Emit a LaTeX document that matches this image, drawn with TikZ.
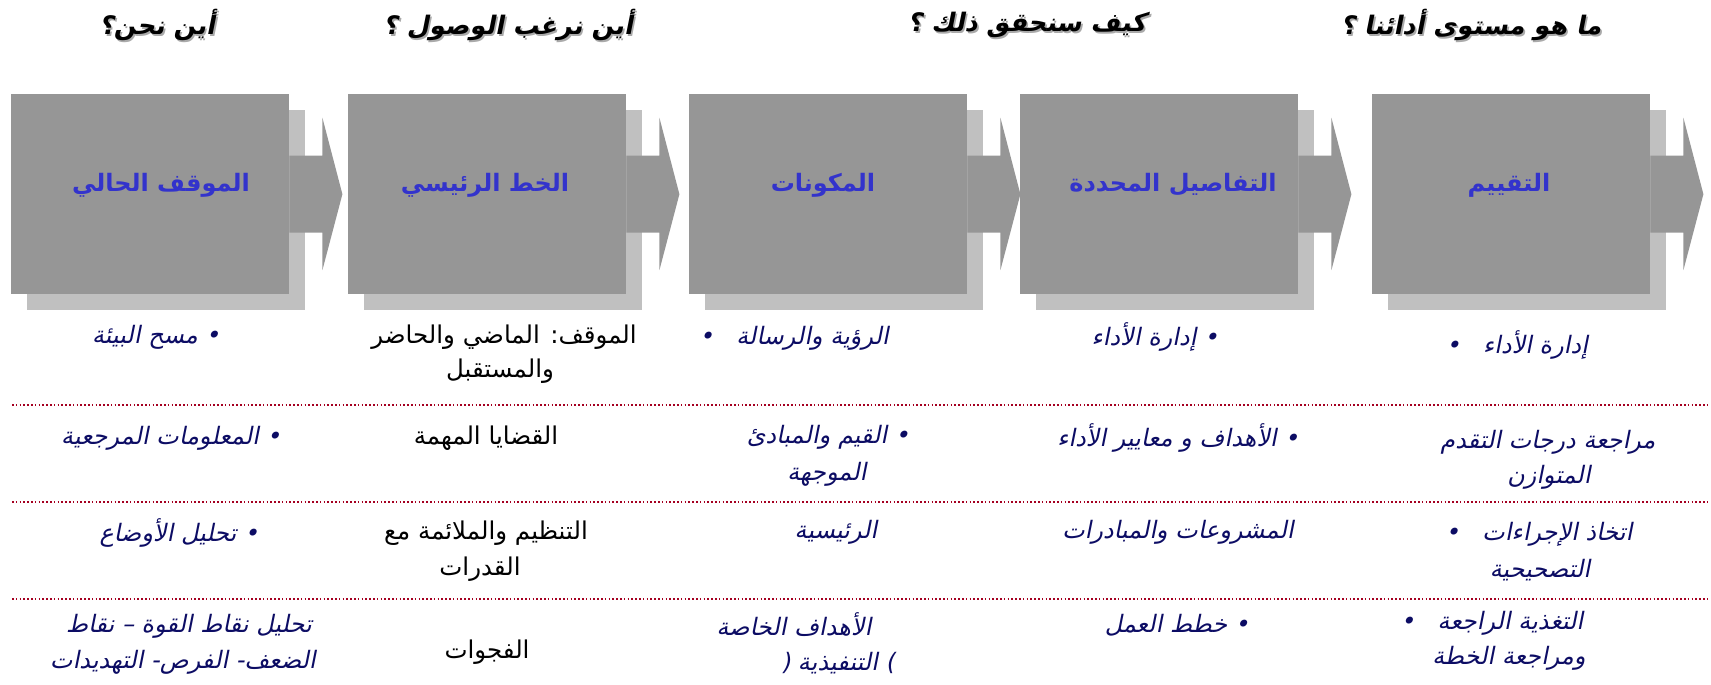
\documentclass[tikz,border=0pt]{standalone}
\usepackage{fontspec}
\TeXXeTstate=1
\newfontfamily\arabicfont[Script=Arabic]{DejaVu Sans}
\newfontfamily\arabicit[Script=Arabic,FakeSlant=0.2]{DejaVu Sans}
\usetikzlibrary{calc}
\definecolor{frontgray}{RGB}{150,150,150}
\definecolor{shadowgray}{RGB}{192,192,192}
\definecolor{titleblue}{RGB}{51,51,204}
\definecolor{navy}{RGB}{12,12,100}
\definecolor{dotred}{RGB}{165,0,33}
\definecolor{hdrshadow}{RGB}{170,170,170}
\tikzset{
  shadowbox/.style={fill=shadowgray, minimum width=278pt, minimum height=200pt, inner sep=0pt, anchor=north west},
  frontbox/.style={fill=frontgray, minimum width=278pt, minimum height=200pt, inner sep=0pt, anchor=north west},
  hdr/.style={font=\fontsize{25.5}{30}\selectfont\arabicit\bfseries, text=black, inner sep=0pt},
  hdrsh/.style={hdr, text=hdrshadow},
  ttl/.style={font=\fontsize{24}{28}\selectfont\arabicfont\bfseries, text=titleblue, inner sep=0pt},
  itx/.style={font=\fontsize{24}{28}\selectfont\arabicit, text=navy, inner sep=0pt},
  utx/.style={font=\fontsize{24.5}{28}\selectfont\arabicfont, text=black, inner sep=0pt},
  sep/.style={draw=dotred, line width=1.6pt, dash pattern=on 1.6pt off 2.2pt},
}
\begin{document}
\begin{tikzpicture}[x=1pt, y=-1pt]
\useasboundingbox (0,0) rectangle (1711,685);

% header questions
\foreach \n/\x/\t in {1/157/{أين نحن؟}, 2/508/{أين نرغب الوصول ؟}, 3/1027/{كيف سنحقق ذلك ؟}, 4/1471/{ما هو مستوى أدائنا ؟}}{
  \node[hdrsh] (hs\n) at (\x+1.6,25+1.6) {\beginR\t\endR};
  \node[hdr] (h\n) at (\x,25) {\beginR\t\endR};
}

% process boxes
\foreach \n/\L/\tx/\t in {1/11/161/{الموقف الحالي}, 2/348/485/{الخط الرئيسي}, 3/689/823/{المكونات}, 4/1020/1173/{التفاصيل المحددة}, 5/1372/1509/{التقييم}}{
  \node[shadowbox] (s\n) at (\L+16,110) {};
  \node[frontbox] (b\n) at (\L,94) {};
  \fill[frontgray] ($(b\n.east)+(0,-38.5)$) -- ++(33,0) -- ++(0,-38) -- ($(b\n.east)+(53,0)$)
     -- ($(b\n.east)+(33,76)$) -- ++(0,-37.5) -- ($(b\n.east)+(0,38.5)$) -- cycle;
  \node[ttl] (t\n) at (\tx,185) {\beginR\t\endR};
}

% separators
\foreach \n/\y in {1/405, 2/502, 3/599}{
  \coordinate (la\n) at (12,\y);
  \coordinate (lb\n) at (1708,\y);
  \draw[sep] (la\n) -- (lb\n);
}

% row 1
\node[itx] (r1c1) at (156,337) {\beginR • مسح البيئة\endR};
\node[utx] (r1c2a) at (504,337) {\beginR الموقف: الماضي والحاضر\endR};
\node[utx] (r1c2b) at (500,371) {\beginR والمستقبل\endR};
\node[itx] (r1c3) at (794,338) {\beginR الرؤية والرسالة ~ •\endR};
\node[itx] (r1c4) at (1155,337) {\beginR • إدارة الأداء\endR};
\node[itx] (r1c5) at (1517,345) {\beginR إدارة الأداء ~ •\endR};

% row 2
\node[itx] (r2c1) at (171,438) {\beginR • المعلومات المرجعية\endR};
\node[utx] (r2c2) at (486,438) {\beginR القضايا المهمة\endR};
\node[itx] (r2c3a) at (828,437) {\beginR • القيم والمبادئ\endR};
\node[itx] (r2c3b) at (827,474) {\beginR الموجهة\endR};
\node[itx] (r2c4) at (1178,438) {\beginR • الأهداف و معايير الأداء\endR};
\node[itx] (r2c5a) at (1548,442) {\beginR مراجعة درجات التقدم\endR};
\node[itx] (r2c5b) at (1549,477) {\beginR المتوازن\endR};

% row 3
\node[itx] (r3c1) at (179,533) {\beginR • تحليل الأوضاع\endR};
\node[utx] (r3c2a) at (486,533) {\beginR التنظيم والملائمة مع\endR};
\node[utx] (r3c2b) at (480,569) {\beginR القدرات\endR};
\node[itx] (r3c3) at (836,532) {\beginR الرئيسية\endR};
\node[itx] (r3c4) at (1178,532) {\beginR المشروعات والمبادرات\endR};
\node[itx] (r3c5a) at (1539,534) {\beginR اتخاذ الإجراءات ~ •\endR};
\node[itx] (r3c5b) at (1540,570) {\beginR التصحيحية\endR};

% row 4
\node[itx] (r4c1a) at (189,626) {\beginR تحليل نقاط القوة – نقاط\endR};
\node[itx] (r4c1b) at (183,662) {\beginR الضعف- الفرص- التهديدات\endR};
\node[utx] (r4c2) at (487,652) {\beginR الفجوات\endR};
\node[itx] (r4c3a) at (794,625) {\beginR الأهداف الخاصة\endR};
\node[itx] (r4c3b) at (838,663) {\beginR ) التنفيذية (\endR};
\node[itx] (r4c4) at (1177,625) {\beginR • خطط العمل\endR};
\node[itx] (r4c5a) at (1492,623) {\beginR التغذية الراجعة ~ •\endR};
\node[itx] (r4c5b) at (1509,658) {\beginR ومراجعة الخطة\endR};
\end{tikzpicture}
\end{document}
